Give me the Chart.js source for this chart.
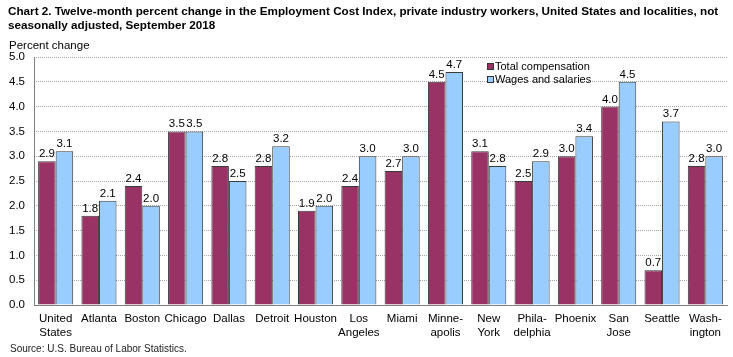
<!DOCTYPE html>
<html><head><meta charset="utf-8">
<script src="https://cdn.jsdelivr.net/npm/chart.js@4/dist/chart.umd.min.js"></script>
<style>
html,body{margin:0;padding:0;background:#fff;}
#wrap{position:relative;width:733px;height:357px;}
canvas{position:absolute;left:0;top:0;}
</style></head>
<body><div id="wrap"><canvas id="c" width="733" height="357"></canvas></div>
<script>
const titleLines = ["Chart 2. Twelve-month percent change in the Employment Cost Index, private industry workers, United States and localities, not","seasonally adjusted, September 2018"];
const yAxisTitle = "Percent change";
const sourceText = "Source: U.S. Bureau of Labor Statistics.";
const categories = [["United","States"],"Atlanta","Boston","Chicago","Dallas","Detroit","Houston",["Los","Angeles"],"Miami",["Minne-","apolis"],["New","York"],["Phila-","delphia"],"Phoenix",["San","Jose"],"Seattle",["Wash-","ington"]];
const totalComp = [2.9,1.8,2.4,3.5,2.8,2.8,1.9,2.4,2.7,4.5,3.1,2.5,3.0,4.0,0.7,2.8];
const wages = [3.1,2.1,2.0,3.5,2.5,3.2,2.0,3.0,3.0,4.7,2.8,2.9,3.4,4.5,3.7,3.0];
const seriesNames = ["Total compensation","Wages and salaries"];
const colors = ["#993366","#99CCFF"];

const FONT = "Arial, 'Liberation Sans', sans-serif";

const extras = {
  id:'extras',
  afterDatasetsDraw(chart){
    const ctx = chart.ctx, a = chart.chartArea;
    ctx.save();
    ctx.strokeStyle = '#808080';
    ctx.lineWidth = 1;
    ctx.beginPath();
    ctx.moveTo(Math.round(a.left)+0.5, a.top);
    ctx.lineTo(Math.round(a.left)+0.5, a.bottom);
    ctx.stroke();
    ctx.restore();
  },
  afterDraw(chart){
    const ctx = chart.ctx;
    ctx.save();
    ctx.fillStyle = '#000';
    ctx.textBaseline = 'alphabetic';
    ctx.textAlign = 'left';
    ctx.font = "bold 11.7px " + FONT;
    ctx.fillText(titleLines[0], 8, 15);
    ctx.fillText(titleLines[1], 8, 29);
    ctx.font = "11.5px " + FONT;
    ctx.fillText(yAxisTitle, 9, 49);
    ctx.font = "10px " + FONT;
    ctx.fillStyle = '#222';
    ctx.fillText(sourceText, 10, 352);
    // data labels
    ctx.fillStyle = '#000';
    ctx.font = "11.5px " + FONT;
    ctx.textAlign = 'center';
    chart.data.datasets.forEach((ds,i)=>{
      const meta = chart.getDatasetMeta(i);
      meta.data.forEach((bar,j)=>{
        ctx.fillText(ds.data[j].toFixed(1), bar.x, bar.y - 4);
      });
    });
    // legend
    const lx = 487, ly = [66, 79];
    ctx.textAlign = 'left';
    ctx.textBaseline = 'middle';
    ctx.font = "11px " + FONT;
    seriesNames.forEach((n,i)=>{
      ctx.fillStyle = colors[i];
      ctx.fillRect(lx, ly[i]-3, 7, 7);
      ctx.strokeStyle = '#333';
      ctx.lineWidth = 1;
      ctx.strokeRect(lx+0.5, ly[i]-2.5, 6, 6);
      ctx.fillStyle = '#000';
      ctx.fillText(n, lx+8, ly[i]+1);
    });
    ctx.restore();
  }
};

new Chart(document.getElementById('c'), {
  type:'bar',
  data:{
    labels: categories,
    datasets:[
      {label:seriesNames[0], data:totalComp, backgroundColor:colors[0], borderColor:'#3a3a3a', borderWidth:1, categoryPercentage:0.81, barPercentage:1.0},
      {label:seriesNames[1], data:wages, backgroundColor:colors[1], borderColor:'#3a3a3a', borderWidth:1, categoryPercentage:0.81, barPercentage:1.0}
    ]
  },
  options:{
    responsive:false,
    animation:false,
    events:[],
    layout:{padding:{left:0,right:6,top:57,bottom:7}},
    plugins:{legend:{display:false}, tooltip:{enabled:false}, title:{display:false}},
    scales:{
      x:{
        grid:{display:false, drawTicks:false},
        border:{display:true, color:'#808080', width:1},
        ticks:{color:'#000', font:{family:FONT, size:11.5}, padding:7, maxRotation:0, autoSkip:false},
        afterFit(s){ s.height = 45; }
      },
      y:{
        min:0, max:5,
        grid:{color:'#a8a8a8', drawTicks:false, lineWidth:1},
        border:{display:false, dash:[1,1]},
        ticks:{stepSize:0.5, color:'#000', font:{family:FONT, size:11.5}, padding:9, callback:v=>v.toFixed(1)},
        afterFit(s){ s.width = 34; }
      }
    }
  },
  plugins:[extras]
});
</script>
</body></html>
